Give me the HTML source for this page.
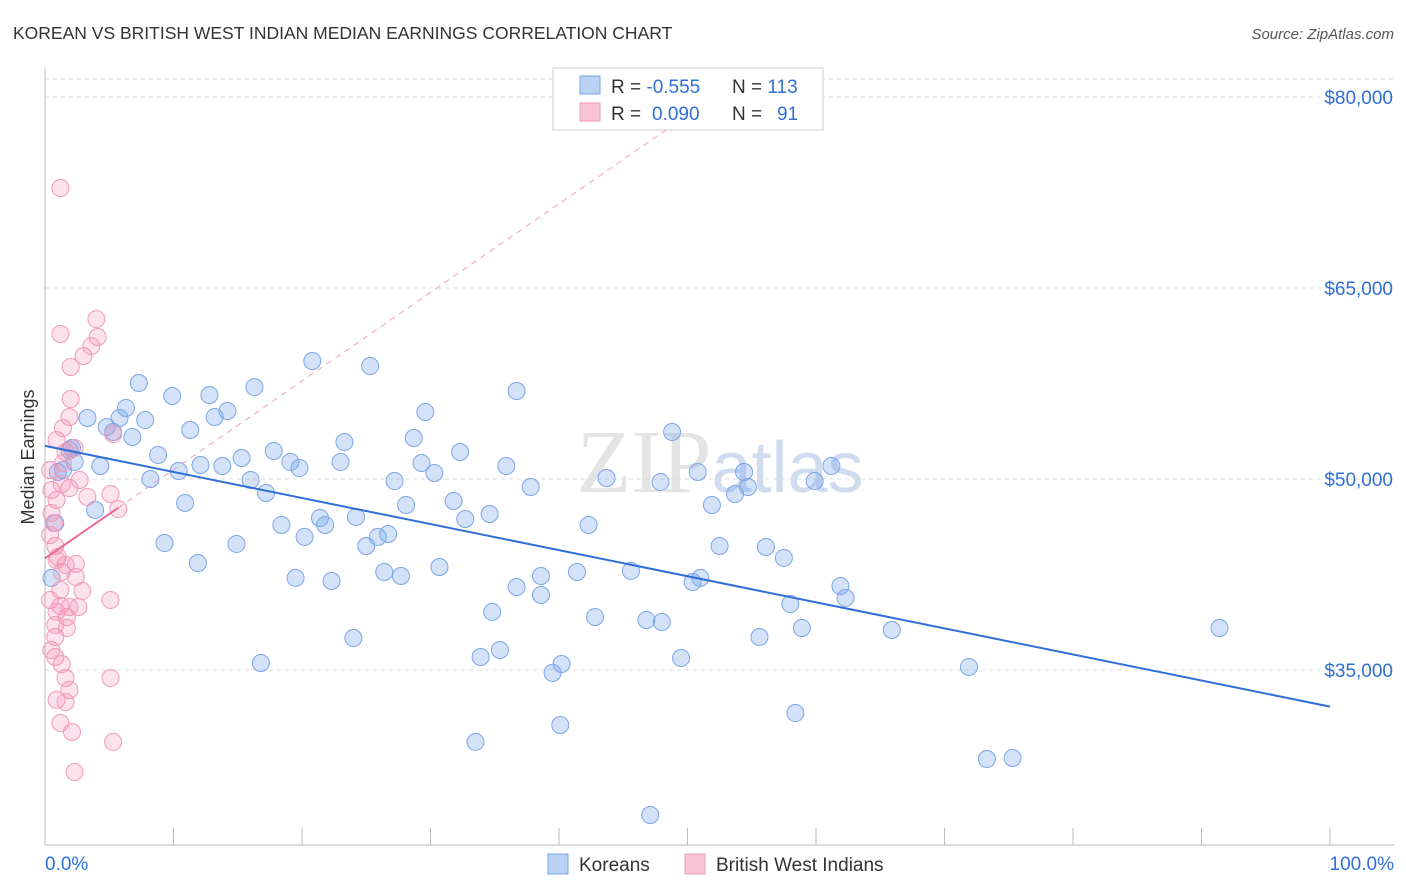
<!DOCTYPE html>
<html><head><meta charset="utf-8"><style>
body{margin:0;background:#fff;font-family:"Liberation Sans",sans-serif;}
svg{display:block}
</style></head><body>
<svg width="1406" height="892" id="chart">
<text x="13" y="39" font-size="17.5" fill="#333">KOREAN VS BRITISH WEST INDIAN MEDIAN EARNINGS CORRELATION CHART</text>
<text x="1394" y="39" font-size="15" fill="#555" font-style="italic" text-anchor="end">Source: ZipAtlas.com</text>
<text x="34" y="457" font-size="18" fill="#333" text-anchor="middle" transform="rotate(-90 34 457)">Median Earnings</text>
<text x="720" y="492" font-size="90" fill="#e4e4e4" text-anchor="middle" font-family="Liberation Serif,serif">ZIP<tspan fill="#cfdcf0" font-family="Liberation Sans,sans-serif" font-size="72">atlas</tspan></text>
<g id="grid"></g><g id="axes"></g><g id="pts"></g><g id="lines"></g>
<g>
<rect x="553" y="68" width="270" height="62" fill="#fff" stroke="#ccc"/>
<rect x="580" y="76" width="20" height="18" fill="#b9d1f3" stroke="#7aa6e6"/>
<rect x="580" y="103" width="20" height="18" fill="#f9c5d6" stroke="#f09ab8"/>
<text x="611" y="93" font-size="19" fill="#333">R = <tspan fill="#2f6fd6">-0.555</tspan>   <tspan x="732">N = </tspan><tspan fill="#2f6fd6">113</tspan></text>
<text x="611" y="120" font-size="19" fill="#333">R = <tspan fill="#2f6fd6" x="652">0.090</tspan><tspan x="732">N = </tspan><tspan fill="#2f6fd6" x="777">91</tspan></text>
</g>
<g>
<rect x="548" y="854" width="20" height="20" fill="#b9d1f3" stroke="#7aa6e6"/>
<text x="579" y="871" font-size="19" fill="#333">Koreans</text>
<rect x="685" y="854" width="20" height="20" fill="#f9c5d6" stroke="#f09ab8"/>
<text x="716" y="871" font-size="19" fill="#333">British West Indians</text>
</g>
</svg>
<script>
const yTicks=[35000,50000,65000,80000];
const yTickLabels=["$35,000","$50,000","$65,000","$80,000"];
const xEndLabels=["0.0%","100.0%"];
const blueX=[3.3,7.3,9.9,12.8,16.3,20.8,25.3,36.7,6.3,5.8,7.8,4.8,5.3,6.8,11.3,13.2,14.2,8.8,10.4,12.1,13.8,15.3,17.8,19.1,19.8,23.0,23.3,28.7,29.6,32.3,29.3,30.3,35.9,37.8,27.2,28.1,31.8,32.7,34.6,8.2,10.9,16.0,17.2,18.4,20.2,21.4,21.8,24.2,25.0,25.9,26.7,9.3,11.9,14.9,19.5,22.3,26.4,27.7,30.7,36.7,38.6,38.6,34.8,41.4,42.8,43.7,42.3,45.6,46.8,48.0,47.9,48.8,50.8,51.9,53.7,54.4,54.7,52.5,56.1,57.5,50.4,51.0,58.0,58.9,55.6,61.9,62.3,59.9,61.2,65.9,91.4,71.9,73.3,75.3,58.4,49.5,40.2,39.5,35.4,33.9,24.0,16.8,40.1,33.5,47.1,3.9,1.9,2.3,4.3,1.0,0.8,0.5,2.1,1.4];
const blueY=[54790,57540,56520,56600,57220,59270,58870,56910,55580,54790,54630,54080,53690,53300,53850,54870,55340,51880,50630,51100,51020,51650,52200,51340,50860,51340,52910,53220,55260,52120,51260,50470,51020,49370,49840,47960,48270,46860,47250,50000,48120,49920,48900,46390,45450,46940,46390,47020,44740,45450,45680,44970,43400,44900,42230,41990,42700,42380,43090,41520,42380,40890,39560,42700,39160,50080,46390,42780,38930,38770,49760,53690,50550,47960,48820,50550,49370,44740,44660,43800,41910,42230,40180,38300,37590,41600,40660,49840,51020,38140,38300,35240,28010,28090,31620,35940,35470,34770,36570,36020,37510,35550,30680,29350,23610,47570,52280,51340,51020,50550,46540,42230,52430,50710];
const pinkX=[1.2,4.0,4.1,1.2,3.6,3.0,2.0,2.0,1.9,1.4,0.9,5.3,2.3,1.6,1.4,2.7,1.9,1.3,3.3,5.1,5.7,0.9,0.5,0.7,0.4,0.8,1.0,1.6,2.4,1.3,2.4,2.9,5.1,1.2,1.9,2.6,1.7,0.8,1.7,0.8,0.8,1.3,1.6,1.9,0.9,1.6,5.1,1.2,2.1,5.3,2.3,0.4,0.5,0.9,1.2,0.4,0.9,0.5];
const pinkY=[72850,62560,61150,61390,60440,59660,58800,56280,54870,54000,53060,53530,52430,52120,51260,49920,49290,49610,48590,48820,47640,48350,47330,46540,45600,44740,43870,43250,43330,42700,42310,41210,40500,40030,39950,39950,39160,38540,38300,37590,36020,35470,34370,33430,32650,32490,34370,30840,30130,29350,26990,50710,49140,43640,41280,40500,39560,36570];
const NS="http://www.w3.org/2000/svg";
const X=v=>45+v*12.85, Y=v=>479-(v-50000)*0.012733;
function mk(t,a,p){const e=document.createElementNS(NS,t);for(const k in a)e.setAttribute(k,a[k]);document.getElementById(p).appendChild(e);return e;}
yTicks.forEach((t,i)=>{
 const g=mk('line',{x1:45,x2:1394,y1:Y(t),y2:Y(t),stroke:'#ddd','stroke-dasharray':'4,4'},'grid');
 
 
 const l=mk('text',{x:1393,y:Y(t)+7,'font-size':19,fill:'#2f6fd6','text-anchor':'end'},'axes');
 l.textContent=yTickLabels[i];
 
 
});
mk('line',{x1:45,x2:1394,y1:79,y2:79,stroke:'#ddd','stroke-dasharray':'4,4'},'grid');
const ax=mk('line',{x1:45,x2:45,y1:68,y2:845,stroke:'#bbb'},'axes');


const bx=mk('line',{x1:45,x2:1394,y1:845,y2:845,stroke:'#bbb'},'axes');


for(let i=0;i<=10;i++){const t=mk('line',{x1:X(i*10),x2:X(i*10),y1:828,y2:845,stroke:'#bbb'},'axes');
 
 }
[[0,'start',45],[1,'end',1394]].forEach(([i,a,x])=>{const t=mk('text',{x:x,y:870,'font-size':19,fill:'#2f6fd6','text-anchor':a},'axes');t.textContent=xEndLabels[i];
 
 });
function fit(xs,ys){const n=xs.length;let mx=0,my=0;for(let i=0;i<n;i++){mx+=xs[i];my+=ys[i];}mx/=n;my/=n;let sxy=0,sxx=0;for(let i=0;i<n;i++){sxy+=(xs[i]-mx)*(ys[i]-my);sxx+=(xs[i]-mx)**2;}const b=sxy/sxx;return [my-b*mx,b];}
blueX.forEach((x,i)=>{const c=mk('circle',{cx:X(x),cy:Y(blueY[i]),r:8.5,fill:'rgba(110,160,235,0.3)',stroke:'#7aa6e6','stroke-width':1},'pts');
 
 });
pinkX.forEach((x,i)=>{const c=mk('circle',{cx:X(x),cy:Y(pinkY[i]),r:8.5,fill:'rgba(245,140,180,0.25)',stroke:'#f09ab8','stroke-width':1},'pts');
 
 });
const [ba,bb]=fit(blueX,blueY);
const bl=mk('line',{x1:X(0),y1:Y(ba),x2:X(100),y2:Y(ba+bb*100),stroke:'#2f6fd6','stroke-width':2},'lines');


const [pa,pb]=fit(pinkX,pinkY);
const xmax=Math.max(...pinkX);
const pl=mk('line',{x1:X(0),y1:Y(pa),x2:X(xmax),y2:Y(pa+pb*xmax),stroke:'#ec6a95','stroke-width':2},'lines');


const xe=(81000-pa)/pb>0?Math.min(100,(81000-pa)/pb):100;
const pd=mk('line',{x1:X(xmax),y1:Y(pa+pb*xmax),x2:X(xe),y2:Y(pa+pb*xe),stroke:'#f0a0bb','stroke-width':1,'stroke-dasharray':'6,5'},'lines');


</script>
</body></html>
